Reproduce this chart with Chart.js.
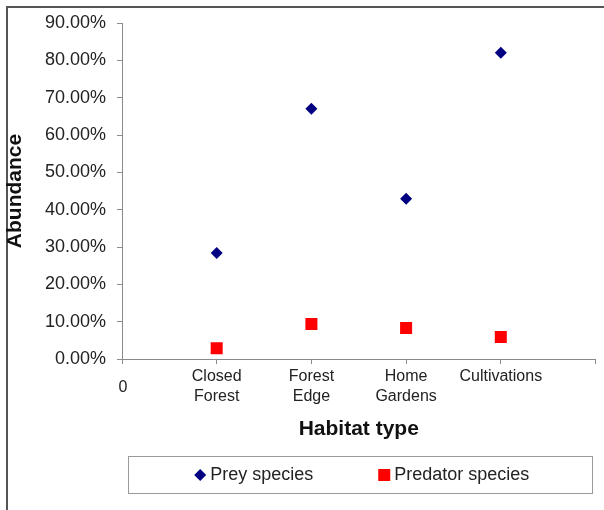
<!DOCTYPE html>
<html>
<head>
<meta charset="utf-8">
<script src="https://cdn.jsdelivr.net/npm/chart.js@4/dist/chart.umd.min.js"></script>
<style>
html, body { margin: 0; padding: 0; background: #ffffff; }
#wrap { width: 604px; height: 510px; position: relative; }
</style>
</head>
<body>
<div id="wrap"><canvas id="c" width="604" height="510"></canvas></div>
<script>
// ---- data ----
const categories = ['Closed Forest', 'Forest Edge', 'Home Gardens', 'Cultivations'];
const categoryTickLabels = [['Closed', 'Forest'], ['Forest', 'Edge'], ['Home', 'Gardens'], ['Cultivations']];
const originTickLabel = '0';
const preySpecies = [28.4, 67.0, 42.9, 82.0];       // % abundance
const predatorSpecies = [2.9, 9.4, 8.3, 5.9];       // % abundance
const seriesNames = ['Prey species', 'Predator species'];
const yAxisTitle = 'Abundance';
const xAxisTitle = 'Habitat type';

const FONT = "'Liberation Sans', Arial, Helvetica, sans-serif";
const AXIS_COLOR = '#8a8a8a';
const TEXT_COLOR = '#222222';

function toPoints(values) {
  return values.map((v, i) => ({ x: i + 1, y: v }));
}

// frame drawn behind the chart (top and left border of the original figure)
const framePlugin = {
  id: 'frame',
  beforeDraw(chart) {
    const ctx = chart.ctx;
    ctx.save();
    ctx.fillStyle = '#ffffff';
    ctx.fillRect(0, 0, chart.width, chart.height);
    ctx.fillStyle = '#555555';
    ctx.fillRect(6, 6, chart.width - 6, 2);
    ctx.fillRect(6, 6, 2, chart.height - 6);
    ctx.restore();
  }
};

// "0" label at the origin, set lower than the category labels as in the reference
const originLabelPlugin = {
  id: 'originLabel',
  afterDraw(chart) {
    const xs = chart.scales.x;
    const ctx = chart.ctx;
    ctx.save();
    ctx.font = '16px ' + FONT;
    ctx.fillStyle = TEXT_COLOR;
    ctx.textAlign = 'center';
    ctx.textBaseline = 'middle';
    ctx.fillText(originTickLabel, xs.getPixelForValue(0) + 1, chart.chartArea.bottom + 28.5);
    ctx.restore();
  }
};

// boxed legend below the axis title
const boxLegendPlugin = {
  id: 'boxLegend',
  afterDraw(chart) {
    const ctx = chart.ctx;
    const area = chart.chartArea;
    const xs = chart.scales.x;
    const left = area.left + 6, right = area.right - 4;
    const top = xs.bottom + 12, height = 37;
    ctx.save();
    ctx.strokeStyle = '#9a9a9a';
    ctx.lineWidth = 1;
    ctx.strokeRect(Math.round(left) + 0.5, Math.round(top) + 0.5, Math.round(right - left), height);

    ctx.font = '18px ' + FONT;
    ctx.textBaseline = 'middle';
    ctx.textAlign = 'left';
    const markerW = 12, gapText = 4, gapItems = 65;
    const items = chart.data.datasets.map(ds => ({
      text: ds.label,
      style: ds.pointStyle,
      radius: ds.pointRadius,
      color: ds.backgroundColor,
      w: ctx.measureText(ds.label).width
    }));
    let total = 0;
    items.forEach((it, i) => { total += markerW + gapText + it.w + (i ? gapItems : 0); });
    let x = (left + right) / 2 + 2 - total / 2;
    const cy = top + height / 2 + 0.5;
    items.forEach((it, i) => {
      if (i) x += gapItems;
      ctx.fillStyle = it.color;
      Chart.helpers.drawPoint(ctx, { pointStyle: it.style, radius: it.radius, rotation: 0, borderWidth: 0 }, x + markerW / 2, cy);
      x += markerW + gapText;
      ctx.fillStyle = TEXT_COLOR;
      ctx.fillText(it.text, x, cy);
      x += it.w;
    });
    ctx.restore();
  }
};

new Chart(document.getElementById('c'), {
  type: 'scatter',
  data: {
    datasets: [
      {
        label: seriesNames[0],
        data: toPoints(preySpecies),
        pointStyle: 'rectRot',
        pointRadius: 6,
        pointHoverRadius: 6,
        borderWidth: 0,
        backgroundColor: '#000080',
        borderColor: '#000080'
      },
      {
        label: seriesNames[1],
        data: toPoints(predatorSpecies),
        pointStyle: 'rect',
        pointRadius: 8.5,
        pointHoverRadius: 8.5,
        borderWidth: 0,
        backgroundColor: '#ff0000',
        borderColor: '#ff0000'
      }
    ]
  },
  options: {
    responsive: false,
    devicePixelRatio: 1,
    animation: false,
    layout: { padding: { top: 23, right: 8, bottom: 66, left: 0 } },
    plugins: {
      legend: { display: false },
      tooltip: { enabled: false },
      title: { display: false }
    },
    scales: {
      x: {
        type: 'linear',
        position: 'bottom',
        min: 0,
        max: 5,
        afterFit(scale) { scale.height = 85; },
        border: { display: true, color: AXIS_COLOR, width: 1 },
        grid: { display: true, drawOnChartArea: false, drawTicks: true, tickLength: 5, color: AXIS_COLOR },
        ticks: {
          stepSize: 1,
          autoSkip: false,
          maxRotation: 0,
          minRotation: 0,
          padding: 3,
          color: TEXT_COLOR,
          font: { family: FONT, size: 16, lineHeight: 1.25 },
          callback(value) {
            return (value >= 1 && value <= categoryTickLabels.length) ? categoryTickLabels[value - 1] : '';
          }
        },
        title: {
          display: true,
          text: xAxisTitle,
          color: '#111111',
          font: { family: FONT, size: 21, weight: 'bold', lineHeight: 1.2 },
          padding: { top: 0, bottom: 2 }
        }
      },
      y: {
        type: 'linear',
        position: 'left',
        min: 0,
        max: 90,
        afterFit(scale) { scale.width = 122; },
        border: { display: true, color: AXIS_COLOR, width: 1 },
        grid: { display: true, drawOnChartArea: false, drawTicks: true, tickLength: 5, color: AXIS_COLOR },
        ticks: {
          stepSize: 10,
          padding: 11,
          color: TEXT_COLOR,
          font: { family: FONT, size: 18 },
          callback(value) { return value.toFixed(2) + '%'; }
        },
        title: {
          display: true,
          text: yAxisTitle,
          color: '#111111',
          font: { family: FONT, size: 21, weight: 'bold', lineHeight: 1.2 },
          padding: { top: 3, bottom: 0 }
        }
      }
    }
  },
  plugins: [framePlugin, originLabelPlugin, boxLegendPlugin]
});
</script>
</body>
</html>
